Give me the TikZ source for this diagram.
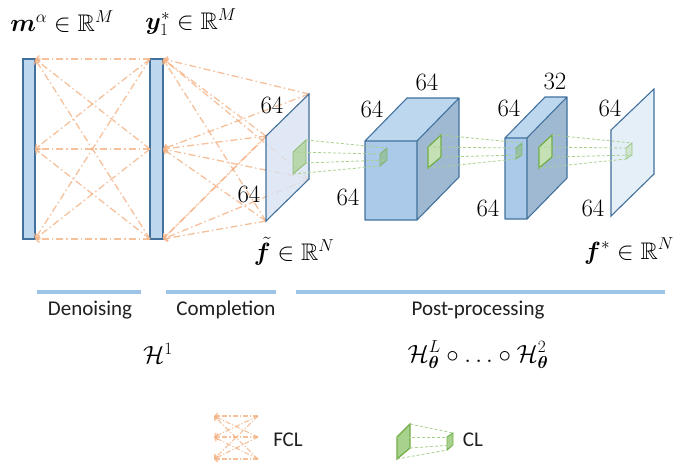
\documentclass[tikz,border=0pt]{standalone}
\usepackage{amsmath,amssymb,bm}
\usepackage{fontspec}
\newfontfamily\calib{Carlito}
\usetikzlibrary{arrows.meta}
\definecolor{barfill}{HTML}{BDD7EE}
\definecolor{barline}{HTML}{41719C}
\definecolor{fclc}{HTML}{F4B183}
\definecolor{planefill}{HTML}{DAE3F3}
\definecolor{planefillb}{HTML}{DEEBF7}
\definecolor{cubefront}{HTML}{ABC9E8}
\definecolor{cubetop}{HTML}{BDD7EE}
\definecolor{cubeside}{HTML}{9FB9D3}
\definecolor{glight}{HTML}{C5E0B4}
\definecolor{gline}{HTML}{70AD47}
\definecolor{gdashc}{HTML}{A9D18E}
\definecolor{sectc}{HTML}{9DC3E6}
\definecolor{txt}{HTML}{202020}
\tikzset{
  barbox/.style={draw=barline,fill=barfill,line width=1.1pt,inner sep=0pt,outer sep=0pt},
  fclline/.style={draw=fclc,line width=1.3pt,opacity=0.8,dash pattern=on 7pt off 3pt on 1.5pt off 3pt,-{Straight Barb[length=3.5pt,width=7pt]}},
  fclmini/.style={draw=fclc,line width=1.1pt,opacity=0.8,dash pattern=on 5pt off 2pt on 1.2pt off 2pt,-{Straight Barb[length=3pt,width=6pt]}},
  planeshape/.style={draw=barline,line width=1.1pt,fill=planefill,fill opacity=0.8},
  gsmall/.style={draw=gline,line width=0.8pt,fill=gline!60!barfill,fill opacity=0.7,draw opacity=0.7},
  gbig/.style={draw=gline,line width=1.2pt,fill=glight},
  gdash/.style={draw=gdashc,line width=0.8pt,dash pattern=on 3pt off 2pt},
  cubeedge/.style={draw=barline,line width=1.1pt,line join=round},
  num/.style={font=\fontsize{25}{30}\selectfont,inner sep=0pt},
  lab/.style={font=\fontsize{24}{29}\selectfont,inner sep=0pt},
  secttext/.style={font=\calib\fontsize{21}{25}\selectfont,inner sep=0pt,text=txt},
  sectbar/.style={draw=sectc,line width=3.5pt},
}
\begin{document}
\begin{tikzpicture}[x=1pt,y=-1pt]
\useasboundingbox (0,0) rectangle (676,466);
\fill[white] (0,0) rectangle (676,466);

% ---- bars ----
\node[barbox,minimum width=12pt,minimum height=180pt] (b1) at (29,149) {};
\node[barbox,minimum width=13pt,minimum height=180pt] (b2) at (156.5,149) {};

% ---- FCL between bars ----
\foreach \s in {north west,west,south west}
  \foreach \t in {north east,east,south east}
    \draw[fclline] (b2.\s) -- (b1.\t);

% ---- plane f tilde ----
\coordinate (fa) at (309,94);
\coordinate (fb) at (266,136);
\coordinate (fc) at (309,179);
\coordinate (fd) at (266,221);
\foreach \p in {fa,fb,fc,fd}
  \foreach \t in {north east,east,south east}
    \draw[fclline] (\p) -- (b2.\t);
\draw[planeshape] (fb) -- (fa) -- (fc) -- (fd) -- cycle;
% green window on f tilde
\coordinate (s1a) at (293,152);
\coordinate (s1b) at (306,140);
\coordinate (s1c) at (306,163);
\coordinate (s1d) at (293,174);
\draw[gsmall,fill=gdashc] (s1a) -- (s1b) -- (s1c) -- (s1d) -- cycle;

% ---- cube 1 ----
\coordinate (c1a) at (365,141);
\coordinate (c1b) at (417,141);
\coordinate (c1c) at (417,220);
\coordinate (c1d) at (365,220);
\coordinate (c1e) at (407,98);
\coordinate (c1f) at (459,98);
\coordinate (c1g) at (459,177);
\fill[cubefront] (c1a) -- (c1b) -- (c1c) -- (c1d) -- cycle;
\fill[cubetop] (c1a) -- (c1e) -- (c1f) -- (c1b) -- cycle;
\fill[cubeside] (c1b) -- (c1f) -- (c1g) -- (c1c) -- cycle;
\draw[cubeedge] (c1a) -- (c1e) -- (c1f) -- (c1g) -- (c1c) -- (c1d) -- cycle
  (c1a) -- (c1b) -- (c1c) (c1b) -- (c1f);
\coordinate (s2a) at (380,154);
\coordinate (s2b) at (387,148);
\coordinate (s2c) at (387,160);
\coordinate (s2d) at (380,166);
\draw[gsmall] (s2a) -- (s2b) -- (s2c) -- (s2d) -- cycle;
\coordinate (s3a) at (428,147);
\coordinate (s3b) at (441,135);
\coordinate (s3c) at (441,157);
\coordinate (s3d) at (428,168);
\draw[gbig] (s3a) -- (s3b) -- (s3c) -- (s3d) -- cycle;

% ---- cube 2 ----
\coordinate (c2a) at (505,138);
\coordinate (c2b) at (527,138);
\coordinate (c2c) at (527,219);
\coordinate (c2d) at (505,219);
\coordinate (c2e) at (545,97);
\coordinate (c2f) at (567,97);
\coordinate (c2g) at (567,178);
\fill[cubefront] (c2a) -- (c2b) -- (c2c) -- (c2d) -- cycle;
\fill[cubetop] (c2a) -- (c2e) -- (c2f) -- (c2b) -- cycle;
\fill[cubeside] (c2b) -- (c2f) -- (c2g) -- (c2c) -- cycle;
\draw[cubeedge] (c2a) -- (c2e) -- (c2f) -- (c2g) -- (c2c) -- (c2d) -- cycle
  (c2a) -- (c2b) -- (c2c) (c2b) -- (c2f);
\coordinate (s4a) at (516,148);
\coordinate (s4b) at (522,143);
\coordinate (s4c) at (522,155);
\coordinate (s4d) at (516,159);
\draw[gsmall] (s4a) -- (s4b) -- (s4c) -- (s4d) -- cycle;
\coordinate (s5a) at (539,147);
\coordinate (s5b) at (552,135);
\coordinate (s5c) at (552,157);
\coordinate (s5d) at (539,168);
\draw[gbig] (s5a) -- (s5b) -- (s5c) -- (s5d) -- cycle;

% ---- plane f star ----
\coordinate (ga) at (654,89);
\coordinate (gb) at (611,130);
\coordinate (gc) at (654,174);
\coordinate (gd) at (611,216);
\draw[planeshape,fill=planefillb] (gb) -- (ga) -- (gc) -- (gd) -- cycle;
\coordinate (s6a) at (626,148);
\coordinate (s6b) at (632,143);
\coordinate (s6c) at (632,155);
\coordinate (s6d) at (626,159);
\draw[gsmall,fill=glight,opacity=0.6] (s6a) -- (s6b) -- (s6c) -- (s6d) -- cycle;

% ---- green dashed receptive fields ----
\foreach \k in {a,b,c,d}{
  \draw[gdash] (s1\k) -- (s2\k);
  \draw[gdash] (s3\k) -- (s4\k);
  \draw[gdash] (s5\k) -- (s6\k);
}

% ---- dimension labels ----
\node[num] (d1) at (272,105) {$64$};
\node[num] (d2) at (249,194) {$64$};
\node[num] (d3) at (427,82) {$64$};
\node[num] (d4) at (372,109) {$64$};
\node[num] (d5) at (348,197) {$64$};
\node[num] (d6) at (555,81) {$32$};
\node[num] (d7) at (509,108) {$64$};
\node[num] (d8) at (488,208) {$64$};
\node[num] (d9) at (610,108) {$64$};
\node[num] (d10) at (593,208) {$64$};

% ---- vector labels ----
\node[lab] (lm) at (62,22) {$\bm{m}^{\alpha}\in\mathbb{R}^M$};
\node[lab] (ly) at (191,22) {$\bm{y}_1^{*}\in\mathbb{R}^M$};
\node[lab] (lf) at (294,251) {$\tilde{\bm{f}}\in\mathbb{R}^N$};
\node[lab] (lfs) at (629,251) {$\bm{f}^{*}\in\mathbb{R}^N$};

% ---- sections ----
\draw[sectbar] (37,292) -- (141,292);
\draw[sectbar] (166,292) -- (276,292);
\draw[sectbar] (296,292) -- (665,292);
\node[secttext] (t1) at (90,310) {Denoising};
\node[secttext] (t2) at (226,310) {Completion};
\node[secttext] (t3) at (478,310) {Post-processing};
\node[lab] (h1) at (158,353) {$\mathcal{H}^1$};
\node[lab] (h2) at (478,355) {$\mathcal{H}^L_{\bm{\theta}}\circ\ldots\circ\mathcal{H}^2_{\bm{\theta}}$};

% ---- legend: FCL ----
\coordinate (la) at (214,416);
\coordinate (lb) at (214,437);
\coordinate (lc) at (214,459);
\coordinate (ra) at (258,416);
\coordinate (rb) at (258,437);
\coordinate (rc) at (258,459);
\foreach \s in {ra,rb,rc}
  \foreach \t in {la,lb,lc}
    \draw[fclmini] (\s) -- (\t);
\node[secttext] (lfcl) at (288,440) {FCL};

% ---- legend: CL ----
\coordinate (ka) at (397,437);
\coordinate (kb) at (410,424);
\coordinate (kc) at (410,448);
\coordinate (kd) at (397,459);
\coordinate (ja) at (447,437);
\coordinate (jb) at (453,433);
\coordinate (jc) at (453,445);
\coordinate (jd) at (447,450);
\draw[gbig,fill=gdashc] (ka) -- (kb) -- (kc) -- (kd) -- cycle;
\draw[gbig,line width=0.9pt,fill=gdashc] (ja) -- (jb) -- (jc) -- (jd) -- cycle;
\foreach \k in {a,b,c,d}
  \draw[gdash] (k\k) -- (j\k);
\node[secttext] (lcl) at (473,440) {CL};
\end{tikzpicture}
\end{document}
